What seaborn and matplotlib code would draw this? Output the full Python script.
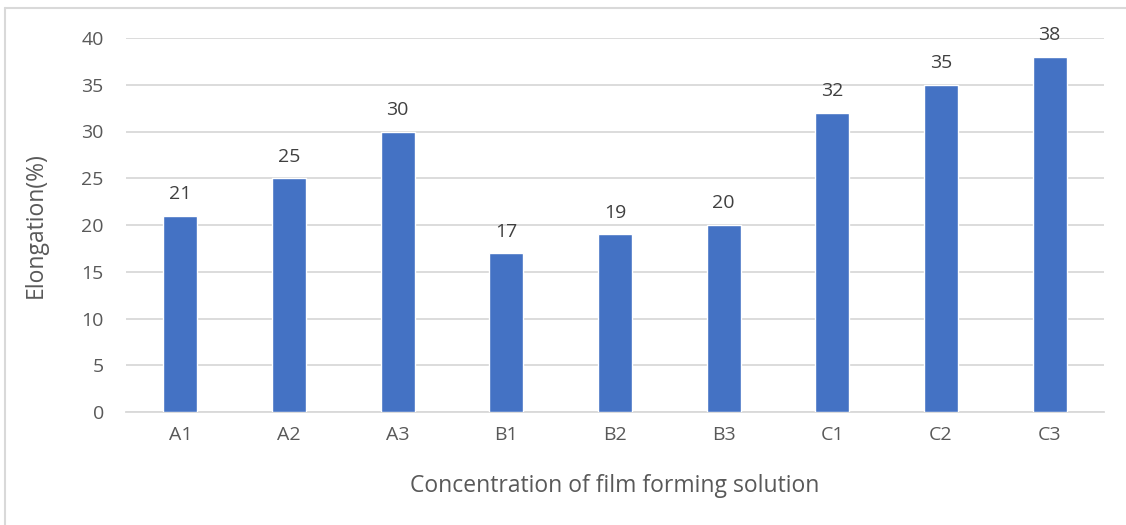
import matplotlib
matplotlib.use("Agg")
import matplotlib.pyplot as plt
import seaborn as sns
import pandas as pd
from matplotlib.lines import Line2D

categories = ["A1", "A2", "A3", "B1", "B2", "B3", "C1", "C2", "C3"]
elongation = [21, 25, 30, 17, 19, 20, 32, 35, 38]
y_ticks = [0, 5, 10, 15, 20, 25, 30, 35, 40]

df = pd.DataFrame({"sample": categories, "elongation": elongation})

sns.set_theme(style="white")
plt.rcParams["font.family"] = ["Open Sans", "DejaVu Sans"]

W, H = 1126, 525
fig = plt.figure(figsize=(W / 100, H / 100), dpi=100)
ax = fig.add_axes([126 / W, 1 - 412 / H, (1104 - 126) / W, (412 - 38) / H])

sns.barplot(data=df, x="sample", y="elongation", color="#4472C4",
            width=0.31, saturation=1, ax=ax, zorder=3)

ax.set_ylim(0, 40)
ax.set_xlim(-0.5, len(categories) - 0.5)
ax.set_yticks(y_ticks)
ax.yaxis.grid(True, color="#d9d9d9", linewidth=1.3, zorder=0)
ax.xaxis.grid(False)
for s in ["top", "right", "left"]:
    ax.spines[s].set_visible(False)
ax.spines["bottom"].set_color("#d9d9d9")
ax.spines["bottom"].set_linewidth(1.3)
ax.tick_params(axis="both", length=0, labelsize=14, labelcolor="#595959")
ax.tick_params(axis="y", pad=16)
ax.tick_params(axis="x", pad=10)

for i, v in enumerate(elongation):
    ax.annotate(f"{v}", (i, v), xytext=(0, 9), textcoords="offset points",
                ha="center", va="bottom", fontsize=14, color="#404040")

ax.set_xlabel("Concentration of film forming solution", fontsize=16.5,
              color="#595959", labelpad=22)
ax.set_ylabel("Elongation(%)", fontsize=16.5, color="#595959", labelpad=24)

# light frame edges around the chart area
fig.add_artist(Line2D([5 / W, 5 / W], [0, 1 - 8 / H], transform=fig.transFigure,
                      color="#d9d9d9", linewidth=1.5))
fig.add_artist(Line2D([5 / W, 1], [1 - 8 / H, 1 - 8 / H], transform=fig.transFigure,
                      color="#d9d9d9", linewidth=1.5))

fig.savefig("out.png", dpi=100)
